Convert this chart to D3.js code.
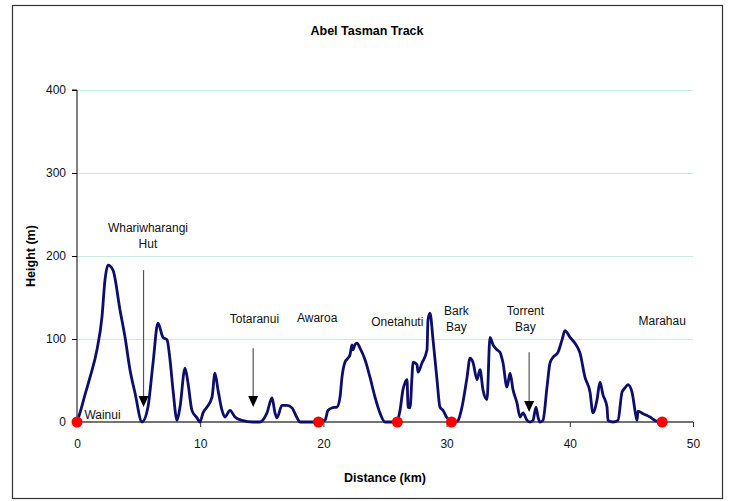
<!DOCTYPE html>
<html>
<head>
<meta charset="utf-8">
<script src="https://cdn.jsdelivr.net/npm/d3@7"></script>
<style>
  html, body { margin: 0; padding: 0; background: #fff; }
  svg { display: block; }
  text { font-family: "Liberation Sans", Arial, sans-serif; }
</style>
</head>
<body>
<svg id="chart" width="730" height="501"></svg>
<script>
// ---- data ----
const distanceKm = [0, 0.24, 0.65, 1.06, 1.62, 2.03, 2.27, 2.52, 2.92, 3.49, 3.90, 4.30, 4.71, 5.28, 5.76, 6.17, 6.57, 6.98, 7.31, 7.55, 7.79, 8.12, 8.36, 8.77, 9.01, 9.33, 9.74, 9.98, 10.23, 10.55, 10.96, 11.20, 11.44, 11.77, 12.01, 12.42, 12.82, 13.39, 14.29, 14.85, 15.42, 15.83, 16.07, 16.23, 16.64, 17.05, 17.45, 17.86, 18.10, 19.16, 19.64, 20.13, 20.37, 20.70, 21.10, 21.35, 21.51, 21.75, 22.00, 22.16, 22.32, 22.40, 22.56, 22.73, 22.97, 23.38, 23.78, 24.19, 24.59, 25.00, 25.57, 25.97, 26.22, 26.46, 26.62, 26.79, 26.87, 27.03, 27.19, 27.27, 27.60, 27.68, 28.00, 28.41, 28.49, 28.65, 28.90, 29.22, 29.46, 29.71, 30.03, 30.36, 30.68, 30.93, 31.25, 31.66, 31.90, 32.14, 32.47, 32.71, 32.95, 33.28, 33.52, 33.77, 34.09, 34.33, 34.58, 34.90, 35.15, 35.39, 35.71, 35.96, 36.20, 36.53, 36.77, 37.01, 37.26, 37.42, 37.58, 37.82, 38.15, 38.39, 38.64, 39.04, 39.37, 39.61, 40.02, 40.42, 40.83, 41.23, 41.64, 41.88, 42.21, 42.45, 42.69, 43.02, 43.10, 43.51, 43.91, 44.24, 44.48, 44.72, 45.05, 45.29, 45.45, 45.54, 45.94, 46.51, 47.08, 47.48];
const heightM = [0, 11, 33, 54, 87, 127, 171, 189, 183, 135, 102, 63, 35, 0, 18, 71, 119, 102, 99, 75, 39, 2, 18, 65, 47, 14, 5, 0, 11, 18, 30, 59, 39, 14, 6, 14, 6, 2, 0, 0, 11, 29, 11, 5, 20, 20, 17, 5, 0, 0, 1, 2, 14, 17, 18, 30, 54, 72, 77, 81, 93, 87, 93, 95, 89, 75, 54, 30, 11, 0, 0, 1, 14, 39, 47, 51, 18, 17, 54, 72, 69, 60, 71, 87, 123, 131, 99, 51, 18, 14, 5, 2, 0, 2, 18, 54, 77, 72, 51, 63, 39, 27, 102, 93, 87, 84, 71, 42, 59, 39, 23, 6, 11, 2, 0, 2, 18, 6, 0, 2, 42, 71, 78, 84, 99, 110, 102, 95, 83, 54, 36, 11, 27, 48, 33, 18, 2, 0, 2, 36, 41, 45, 36, 14, 2, 13, 10, 6, 1, 1];

const stopNames = ["Wainui", "Awaroa", "Onetahuti", "Bark Bay", "Marahau"];
const stopKm = [0, 19.6, 26.0, 30.4, 47.5];

const arrowNames = ["Whariwharangi Hut", "Totaranui", "Torrent Bay"];
const arrowKm = [5.4, 14.3, 36.7];
const arrowTopM = [183, 89, 84];
const arrowTipM = [18, 18, 12];

const xTicks = [0, 10, 20, 30, 40, 50];
const yTicks = [0, 100, 200, 300, 400];

const titleText = "Abel Tasman Track";
const xTitle = "Distance (km)";
const yTitle = "Height (m)";

// ---- layout ----
const svg = d3.select("#chart");
const x = d3.scaleLinear().domain([0, 50]).range([77, 693]);
const y = d3.scaleLinear().domain([0, 400]).range([422, 90]);

// outer frame
svg.append("rect").attr("x", 12.5).attr("y", 5.5).attr("width", 710).attr("height", 493)
  .attr("fill", "#fff").attr("stroke", "#333").attr("stroke-width", 1.2);

// gridlines
svg.append("g").selectAll("line").data(yTicks.filter(d => d > 0)).join("line")
  .attr("x1", x(0)).attr("x2", x(50))
  .attr("y1", d => Math.round(y(d)) + 0.5).attr("y2", d => Math.round(y(d)) + 0.5)
  .attr("stroke", "#c6ece4").attr("stroke-width", 1);

// y axis
const yAxis = svg.append("g").attr("transform", `translate(${x(0)},0)`)
  .call(d3.axisLeft(y).tickValues(yTicks).tickSize(5).tickPadding(6).tickFormat(d3.format("d")));
yAxis.select(".domain").attr("stroke", "#000").attr("d", `M-5,${y(400)}H0V${y(0)}`);
yAxis.selectAll(".tick line").attr("stroke", "#000");
yAxis.selectAll(".tick text").attr("font-size", 12).attr("fill", "#111")
  .attr("font-family", "'Liberation Sans', Arial, sans-serif");

// x axis
const xAxis = svg.append("g").attr("transform", `translate(0,${y(0)})`)
  .call(d3.axisBottom(x).tickValues(xTicks).tickSize(5).tickPadding(12).tickFormat(d3.format("d")));
xAxis.select(".domain").attr("stroke", "#444").attr("stroke-width", 1.6).attr("d", `M${x(0)},0H${x(50)}`);
xAxis.selectAll(".tick line").attr("stroke", "#333");
xAxis.selectAll(".tick text").attr("font-size", 12).attr("fill", "#111")
  .attr("font-family", "'Liberation Sans', Arial, sans-serif");

// titles
svg.append("text").attr("x", 367).attr("y", 35).attr("text-anchor", "middle")
  .attr("font-size", 12.5).attr("font-weight", "bold").attr("fill", "#000").text(titleText);
svg.append("text").attr("x", 385).attr("y", 482).attr("text-anchor", "middle")
  .attr("font-size", 12.5).attr("font-weight", "bold").attr("fill", "#000").text(xTitle);
svg.append("text").attr("transform", "translate(35,256) rotate(-90)").attr("text-anchor", "middle")
  .attr("font-size", 12.5).attr("font-weight", "bold").attr("fill", "#000").text(yTitle);

// elevation profile
const profile = distanceKm.map((d, i) => [d, heightM[i]]);
svg.append("path").datum(profile)
  .attr("fill", "none").attr("stroke", "#0d0d6b").attr("stroke-width", 2.8)
  .attr("stroke-linejoin", "round").attr("stroke-linecap", "round")
  .attr("d", d3.line().x(d => x(d[0])).y(d => y(d[1])).curve(d3.curveMonotoneX));

// arrows
const arrows = arrowNames.map((n, i) => ({ name: n, km: arrowKm[i], top: arrowTopM[i], tip: arrowTipM[i] }));
const ag = svg.append("g");
ag.selectAll("line").data(arrows).join("line")
  .attr("x1", d => x(d.km)).attr("x2", d => x(d.km))
  .attr("y1", d => y(d.top)).attr("y2", d => y(d.tip) - 8)
  .attr("stroke", "#555").attr("stroke-width", 1.2);
ag.selectAll("path").data(arrows).join("path")
  .attr("d", d => `M${x(d.km) - 5},${y(d.tip) - 11}L${x(d.km) + 5},${y(d.tip) - 11}L${x(d.km)},${y(d.tip)}Z`)
  .attr("fill", "#000");

// stop markers
svg.append("g").selectAll("circle").data(stopKm).join("circle")
  .attr("cx", d => x(d)).attr("cy", y(0)).attr("r", 5.5).attr("fill", "#f00");

// place labels (lines of text anchored on data positions)
const labels = [
  { lines: ["Whariwharangi", "Hut"], km: 5.76, m: 229 },
  { lines: ["Totaranui"], km: 14.4, m: 119 },
  { lines: ["Awaroa"], km: 19.5, m: 121 },
  { lines: ["Onetahuti"], km: 26.0, m: 116 },
  { lines: ["Bark", "Bay"], km: 30.8, m: 129 },
  { lines: ["Torrent", "Bay"], km: 36.4, m: 129 },
  { lines: ["Marahau"], km: 47.5, m: 117 }
];
const lg = svg.append("g").attr("font-size", 12).attr("fill", "#111").attr("text-anchor", "middle");
labels.forEach(l => {
  const t = lg.append("text").attr("x", x(l.km)).attr("y", y(l.m));
  l.lines.forEach((s, i) => t.append("tspan").attr("x", x(l.km)).attr("dy", i ? 16.5 : 0).text(s));
});
svg.append("text").attr("x", x(0.6)).attr("y", y(4)).attr("font-size", 12).attr("fill", "#111")
  .text(stopNames[0]);
</script>
</body>
</html>
